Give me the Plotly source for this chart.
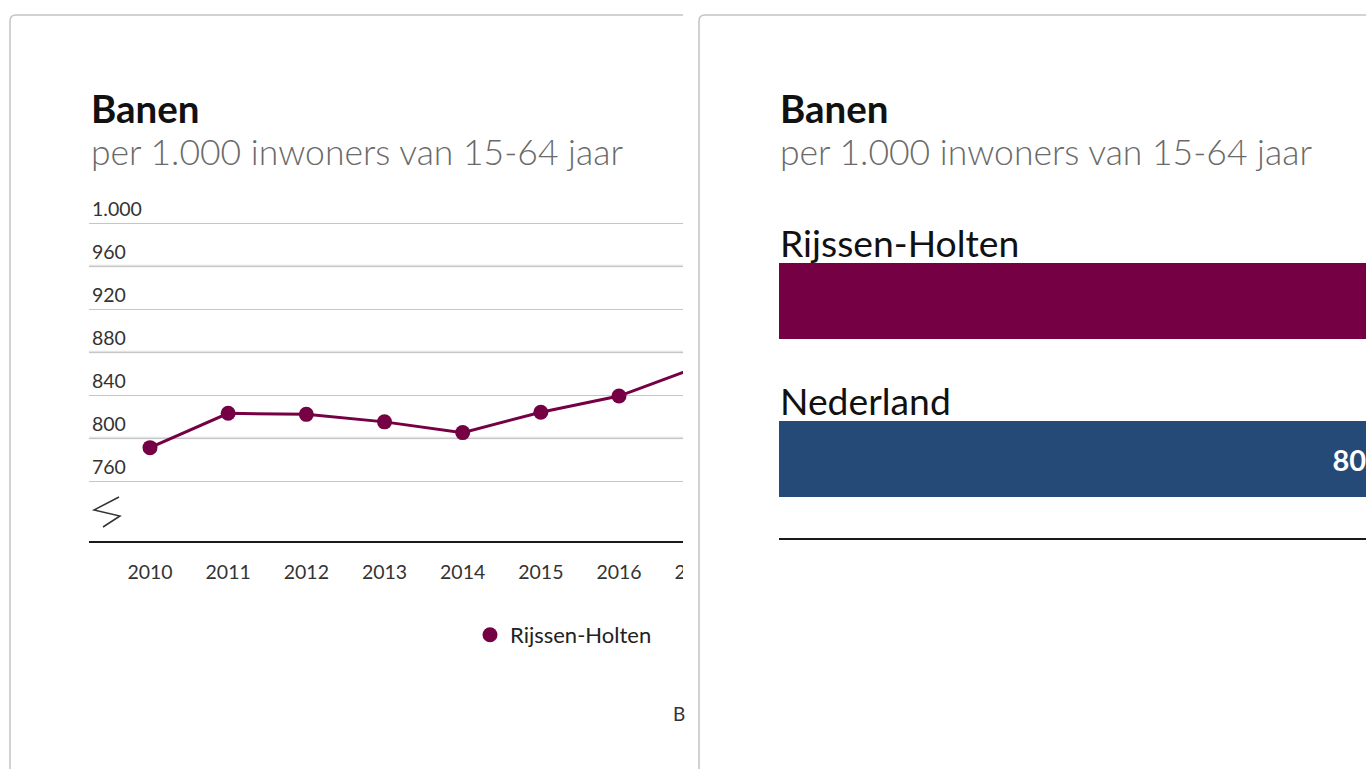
import plotly.graph_objects as go

# ---------------- data ----------------
years = [2010, 2011, 2012, 2013, 2014, 2015, 2016, 2017]
rh_values = [791, 823, 822, 815, 805, 824, 839, 866]
y_ticks = [760, 800, 840, 880, 920, 960, 1000]
y_ticks_light = [800, 880, 960]

bar_categories = ["Rijssen-Holten", "Nederland"]
bar_values = [866, 807]
bar_colors = ["#750044", "#264a77"]

series_name = "Rijssen-Holten"
title_text = "Banen"
subtitle_text = "per 1.000 inwoners van 15-64 jaar"
source_text = "B"

# ---------------- geometry helpers (page pixels -> paper) ----------------
W, H = 1480, 769
def X(px):
    return px / W
def Y(py):
    return 1 - py / H

FONT = "Source Sans Pro, Lato, sans-serif"
DARK = "#1a1a1a"
PLUM = "#750044"

fig = go.Figure()

# line chart (left panel)
fig.add_trace(go.Scatter(
    x=years, y=rh_values, mode="lines", name=series_name,
    line=dict(color=PLUM, width=3),
    xaxis="x", yaxis="y", showlegend=False, hoverinfo="skip",
))
fig.add_trace(go.Scatter(
    x=years, y=rh_values, mode="markers", name=series_name,
    marker=dict(color=PLUM, size=15),
    xaxis="x", yaxis="y", showlegend=True,
))

# bar chart (right panel)
fig.add_trace(go.Bar(
    x=bar_values, y=bar_categories, orientation="h",
    marker=dict(color=bar_colors, line=dict(width=0)),
    width=0.48, text=[str(v) for v in bar_values],
    textposition="inside", insidetextanchor="end",
    textfont=dict(color="white", size=29, family=FONT, weight="bold"),
    xaxis="x2", yaxis="y2", showlegend=False, hoverinfo="skip",
))

px_per_year = (619 - 150) / 6.0
x_lo = 2010 - (150 - 89) / px_per_year
x_hi = 2010 + (720 - 150) / px_per_year
val_per_px = 40 / 43.0
y_lo = 760 - (541 - 481) * val_per_px
y_hi = 760 + (481 - 185) * val_per_px

bar_scale = 0.752  # px per unit
x2_hi = (W - 779) / bar_scale

annotations = []
for xpx in (89, 778):
    annotations.append(dict(text="<b>" + title_text + "</b>", x=X(xpx), y=Y(108), xref="paper", yref="paper",
                            xanchor="left", yanchor="middle", showarrow=False,
                            font=dict(family=FONT, size=38.5, color="#111111")))
    annotations.append(dict(text=subtitle_text, x=X(xpx), y=Y(152), xref="paper", yref="paper",
                            xanchor="left", yanchor="middle", showarrow=False,
                            font=dict(family=FONT, size=35.5, color="#6a6a6a", weight=300)))
for cat in bar_categories:
    annotations.append(dict(text=cat, x=X(778), y=cat, xref="paper", yref="y2",
                            xanchor="left", yanchor="middle", yshift=59, showarrow=False,
                            font=dict(family=FONT, size=37.3, color="#111111")))
annotations.append(dict(text=source_text, x=X(671), y=Y(713), xref="paper", yref="paper",
                        xanchor="left", yanchor="middle", showarrow=False,
                        font=dict(family=FONT, size=19, color="#333333")))

def card_path(x0, x1, top, bottom, r=6):
    return (f"M {X(x0)},{Y(bottom)} L {X(x0)},{Y(top + r)} "
            f"Q {X(x0)},{Y(top)} {X(x0 + r)},{Y(top)} L {X(x1)},{Y(top)}")

shapes = []
# lighter, wider grid lines at alternate ticks (drawn over the regular grid)
for v in y_ticks_light:
    shapes.append(dict(type="line", xref="paper", yref="y", x0=X(89), x1=X(720), y0=v, y1=v,
                       line=dict(color="#e3e3e3", width=2.6), layer="between"))
shapes += [
    # axis break symbol
    dict(type="path", xref="paper", yref="paper",
         path=f"M {X(119)},{Y(497)} L {X(94)},{Y(510)} L {X(120)},{Y(516)} L {X(103)},{Y(527)}",
         line=dict(color="#333333", width=1.5), layer="above"),
    # left card border
    dict(type="path", xref="paper", yref="paper", path=card_path(10, 683, 15, 790),
         line=dict(color="#c4c4c4", width=1.5), layer="above"),
    # white gap / clip between the two cards
    dict(type="rect", xref="paper", yref="paper", x0=X(683), x1=X(778.5), y0=0, y1=1,
         fillcolor="white", line=dict(width=0), layer="above"),
    # right card border
    dict(type="path", xref="paper", yref="paper", path=card_path(699, W + 10, 15, 790),
         line=dict(color="#c4c4c4", width=1.5), layer="above"),
]

fig.update_layout(
    width=W, height=H,
    margin=dict(l=0, r=0, t=0, b=0),
    paper_bgcolor="white", plot_bgcolor="rgba(0,0,0,0)",
    separators=",.",
    font=dict(family=FONT, color="#333333"),
    xaxis=dict(domain=[X(89), X(720)], range=[x_lo, x_hi], tickvals=years,
               ticktext=[str(v) for v in years], showgrid=False, zeroline=False,
               showline=True, linecolor=DARK, linewidth=2, ticks="",
               ticklabelstandoff=13, tickfont=dict(size=19.5, color="#333333"),
               anchor="y", fixedrange=True),
    yaxis=dict(domain=[Y(541), Y(185)], range=[y_lo, y_hi], tickvals=y_ticks,
               tickformat=",d", ticklabelposition="inside top",
               showgrid=True, gridcolor="#c6c6c6", gridwidth=1.2,
               zeroline=False, showline=False, ticks="",
               tickfont=dict(size=19.5, color="#333333"), anchor="x", fixedrange=True),
    xaxis2=dict(domain=[X(779), 1], range=[0, x2_hi], showgrid=False, zeroline=False,
                showticklabels=False, showline=True, linecolor=DARK, linewidth=2,
                anchor="y2", fixedrange=True),
    yaxis2=dict(domain=[Y(538), Y(222)], type="category", categoryorder="array",
                categoryarray=bar_categories, range=[1.5, -0.5], showgrid=False,
                zeroline=False, showticklabels=False, showline=False, anchor="x2",
                fixedrange=True),
    legend=dict(orientation="h", x=X(470), y=Y(635), xanchor="left", yanchor="middle",
                font=dict(family=FONT, size=22, color="#222222"), bgcolor="rgba(0,0,0,0)"),
    annotations=annotations,
    shapes=shapes,
    showlegend=True,
)

fig.write_html(
    "out.html",
    config={"displayModeBar": False},
    post_script="document.documentElement.style.margin='0';document.body.style.margin='0';"
                "document.body.style.overflow='hidden';",
)
